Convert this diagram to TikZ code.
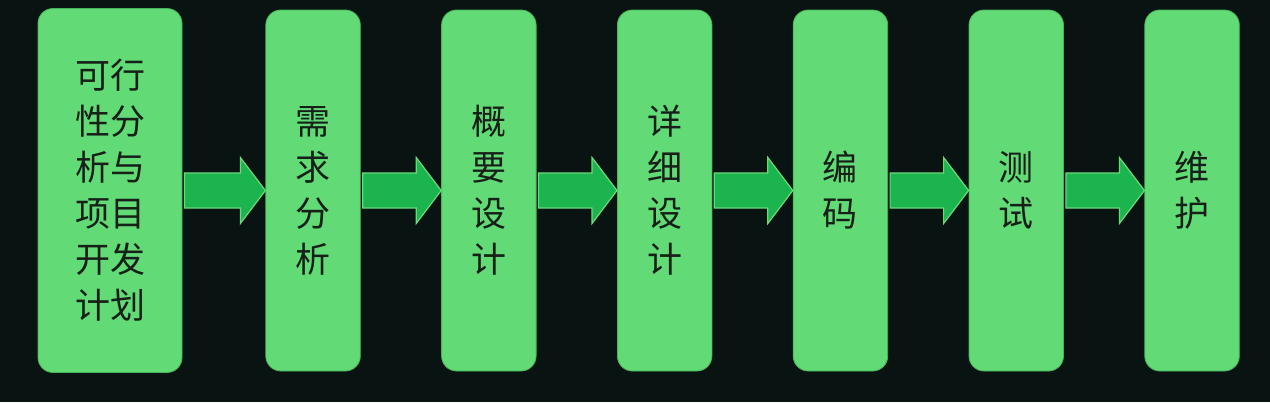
\documentclass[tikz,border=0pt]{standalone}
\usepackage{fontspec}
\newfontfamily\cjk{Noto Sans CJK SC}
\usetikzlibrary{positioning,calc}

\definecolor{bgcol}{RGB}{9,20,18}
\definecolor{boxfill}{RGB}{98,218,118}
\definecolor{boxline}{RGB}{70,180,90}
\definecolor{arrowfill}{RGB}{28,180,78}
\definecolor{arrowline}{RGB}{105,218,120}
\definecolor{textcol}{RGB}{22,32,24}

\begin{document}
\begin{tikzpicture}[x=1pt,y=-1pt,node distance=80.5pt,
	  stage/.style={rectangle,rounded corners=15pt,fill=boxfill,draw=boxline,line width=0.8pt,
	    minimum width=94.5pt,minimum height=361pt,inner sep=0pt,align=center,text=textcol,
	    font=\cjk\fontsize{35}{46}\selectfont},
	  flow arrow/.style={fill=arrowfill,draw=arrowline,line width=1.2pt,line join=miter}]

		\fill[bgcol] (0,0) rectangle (1270,402);

		\node[stage, minimum width=144pt, minimum height=364pt] (plan) at (110,190.5) {可行\\性分\\析与\\项目\\开发\\计划};
		\node[stage] (req) [right=83pt of plan] {需\\求\\分\\析};
		\node[stage] (arch) [right=of req] {概\\要\\设\\计};
		\node[stage] (detail) [right=of arch] {详\\细\\设\\计};
		\node[stage] (code) [right=of detail] {编\\码};
		\node[stage] (test) [right=of code] {测\\试};
		\node[stage] (maint) [right=of test] {维\\护};

	% block arrows between the stages
	\foreach \a/\b in {plan/req, req/arch, arch/detail, detail/code, code/test, test/maint}
		\draw[flow arrow] let \p1=(\b.west), \p2=(\a.east) in
			(\x2+2pt,\y1+17.5pt) -- (\x1-25pt,\y1+17.5pt) -- (\x1-25pt,\y1+33pt) -- (\x1,\y1)
			-- (\x1-25pt,\y1-33pt) -- (\x1-25pt,\y1-17.5pt) -- (\x2+2pt,\y1-17.5pt) -- cycle;

	\end{tikzpicture}
\end{document}
